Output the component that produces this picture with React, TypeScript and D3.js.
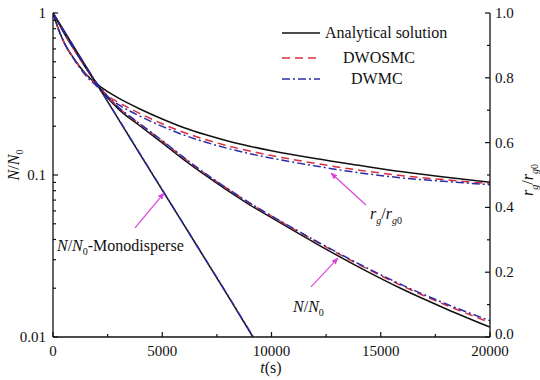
import React from "react";
import * as d3 from "d3";

// ---- data ----
const times = [0, 250, 500, 1000, 1500, 2000, 2500, 3000, 4000, 5000, 6000, 7000, 8000, 9000, 10000, 12000, 14000, 16000, 18000, 20000];

// N/N0 polydisperse (left, log axis)
const nAnalytical = [1, 0.87, 0.755, 0.585, 0.458, 0.365, 0.3, 0.255, 0.2, 0.158, 0.124, 0.099, 0.08, 0.0655, 0.0545, 0.038, 0.027, 0.0197, 0.0149, 0.0115];
const nDWOSMC = [1, 0.87, 0.755, 0.585, 0.46, 0.368, 0.305, 0.26, 0.205, 0.162, 0.127, 0.101, 0.082, 0.067, 0.0557, 0.0391, 0.028, 0.0206, 0.0157, 0.0123];
const nDWMC = [1, 0.875, 0.76, 0.59, 0.462, 0.37, 0.306, 0.262, 0.206, 0.163, 0.128, 0.1015, 0.0822, 0.0672, 0.056, 0.0394, 0.0283, 0.0209, 0.016, 0.0126];

// r_g/r_g0 (right, linear axis)
const rgAnalytical = [1, 0.95, 0.91, 0.855, 0.812, 0.781, 0.757, 0.737, 0.703, 0.673, 0.646, 0.624, 0.605, 0.589, 0.575, 0.551, 0.53, 0.51, 0.493, 0.478];
const rgDWOSMC = [1, 0.95, 0.91, 0.855, 0.81, 0.778, 0.745, 0.724, 0.689, 0.658, 0.631, 0.609, 0.59, 0.574, 0.56, 0.536, 0.515, 0.498, 0.485, 0.473];
const rgDWMC = [1, 0.95, 0.91, 0.853, 0.807, 0.774, 0.74, 0.717, 0.681, 0.65, 0.623, 0.601, 0.582, 0.566, 0.552, 0.528, 0.507, 0.491, 0.48, 0.47];

// N/N0 monodisperse (left, log axis)
const monoTimes = [0, 2000, 4000, 6000, 8000, 9150];
const monoAnalytical = [1, 0.365, 0.133, 0.049, 0.018, 0.01];
const monoDWMC = [1, 0.366, 0.134, 0.0492, 0.0181, 0.0101];

const xTicks = [0, 5000, 10000, 15000, 20000];
const xMinor = [2500, 7500, 12500, 17500];
const leftTicks = [1, 0.1, 0.01];
const leftTickLabels = ["1", "0.1", "0.01"];
const rightTicks = [0, 0.2, 0.4, 0.6, 0.8, 1.0];
const rightTickLabels = ["0.0", "0.2", "0.4", "0.6", "0.8", "1.0"];
const rightMinor = [0.1, 0.3, 0.5, 0.7, 0.9];

const legendLabels = ["Analytical solution", "DWOSMC", "DWMC"];

const FONT = "'Liberation Serif', 'DejaVu Serif', 'Times New Roman', serif";
const BLACK = "#111";
const RED = "#d8303c";
const BLUE = "#2c2ca8";
const MAGENTA = "#dd44dd";

export default function App() {
  const W = 540, H = 380;
  const L = 53, R = 490, T = 13, B = 337;
  const x = d3.scaleLinear().domain([0, 20000]).range([L, R]);
  const yL = d3.scaleLog().domain([0.01, 1]).range([B, T]);
  const yR = d3.scaleLinear().domain([0, 1]).range([B, T]);

  const lineL = d3.line<[number, number]>().x(d => x(d[0])).y(d => yL(d[1])).curve(d3.curveMonotoneX);
  const lineR = d3.line<[number, number]>().x(d => x(d[0])).y(d => yR(d[1])).curve(d3.curveMonotoneX);
  const zip = (ts: number[], vs: number[]) => ts.map((t, i) => [t, vs[i]] as [number, number]);

  const leftMinor: number[] = [];
  [0.01, 0.1].forEach(base => { for (let k = 2; k <= 9; k++) leftMinor.push(base * k); });

  const dashRed = "8,5";
  const dashBlue = "8,3,2,3";

  const series = [
    { d: lineR(zip(times, rgAnalytical)), c: BLACK, dash: undefined },
    { d: lineR(zip(times, rgDWOSMC)), c: RED, dash: dashRed },
    { d: lineR(zip(times, rgDWMC)), c: BLUE, dash: dashBlue },
    { d: lineL(zip(times, nAnalytical)), c: BLACK, dash: undefined },
    { d: lineL(zip(times, nDWOSMC)), c: RED, dash: dashRed },
    { d: lineL(zip(times, nDWMC)), c: BLUE, dash: dashBlue },
    { d: lineL(zip(monoTimes, monoAnalytical)), c: BLACK, dash: undefined },
    { d: lineL(zip(monoTimes, monoDWMC)), c: BLUE, dash: dashBlue },
  ];

  // annotations in data coordinates (t, N/N0)
  const arrows = [
    { from: [3753, 0.0471], to: [5080, 0.0774] },
    { from: [14325, 0.0653], to: [12723, 0.1028] },
    { from: [11808, 0.0204], to: [13043, 0.0307] },
  ];

  const legendColors = [BLACK, RED, BLUE];
  const legendDash = [undefined, dashRed, dashBlue];
  const legendY = [33, 58, 79];
  const legendTextX = [325, 343, 351];

  return (
    <svg width={W} height={H} style={{ position: "absolute", left: 0, top: 0, background: "#fff", fontFamily: FONT }} fontFamily={FONT}>
      <defs>
        <clipPath id="plot"><rect x={L} y={T - 2} width={R - L} height={B - T + 2} /></clipPath>
        <marker id="arr" viewBox="0 0 10 10" refX="9" refY="5" markerWidth="7" markerHeight="7" orient="auto" markerUnits="userSpaceOnUse">
          <path d="M0,1 L10,5 L0,9 z" fill={MAGENTA} />
        </marker>
      </defs>
      <rect width={W} height={H} fill="#fff" />

      <g clipPath="url(#plot)">
        {series.map((s, i) => (
          <path key={i} d={s.d || ""} fill="none" stroke={s.c} strokeWidth={1.5} strokeDasharray={s.dash} />
        ))}
      </g>

      {/* arrows */}
      {arrows.map((a, i) => (
        <line key={i} x1={x(a.from[0])} y1={yL(a.from[1])} x2={x(a.to[0])} y2={yL(a.to[1])}
          stroke={MAGENTA} strokeWidth={1.2} markerEnd="url(#arr)" />
      ))}

      {/* annotation labels */}
      <text x={x(183)} y={yL(0.034)} fontSize={16} fill={BLACK}>
        <tspan fontStyle="italic">N</tspan>/<tspan fontStyle="italic">N</tspan>
        <tspan fontSize={10} dy={4}>0</tspan><tspan dy={-4}>-Monodisperse</tspan>
      </text>
      <text x={x(10984)} y={yL(0.01426)} fontSize={16} fill={BLACK}>
        <tspan fontStyle="italic">N</tspan>/<tspan fontStyle="italic">N</tspan>
        <tspan fontSize={10} dy={4}>0</tspan>
      </text>
      <text x={x(14508)} y={yL(0.0535)} fontSize={16} fill={BLACK}>
        <tspan fontStyle="italic">r</tspan><tspan fontSize={10} dy={5} fontStyle="italic">g</tspan>
        <tspan dy={-5}>/</tspan><tspan fontStyle="italic">r</tspan>
        <tspan fontSize={10} dy={5} fontStyle="italic">g</tspan><tspan fontSize={10}>0</tspan>
      </text>

      {/* axes lines */}
      <line x1={L} y1={T} x2={L} y2={B} stroke={BLACK} strokeWidth={1.3} />
      <line x1={R} y1={T} x2={R} y2={B} stroke={BLACK} strokeWidth={1.3} />
      <line x1={L} y1={B} x2={R} y2={B} stroke={BLACK} strokeWidth={1.3} />

      {/* x ticks */}
      {xTicks.map(t => (
        <g key={t}>
          <line x1={x(t)} x2={x(t)} y1={B} y2={B - 5} stroke={BLACK} strokeWidth={1.2} />
          <text x={x(t)} y={356} fontSize={15} textAnchor="middle" fill={BLACK}>{t}</text>
        </g>
      ))}
      {xMinor.map(t => (
        <line key={t} x1={x(t)} x2={x(t)} y1={B} y2={B - 3} stroke={BLACK} strokeWidth={1.2} />
      ))}
      <text x={271} y={373} fontSize={16} textAnchor="middle" fill={BLACK}>
        <tspan fontStyle="italic">t</tspan>(s)
      </text>

      {/* left ticks */}
      {leftTicks.map((v, i) => (
        <g key={v}>
          <line x1={L} x2={L + 5} y1={yL(v)} y2={yL(v)} stroke={BLACK} strokeWidth={1.2} />
          <text x={46} y={yL(v)} dy="0.33em" fontSize={15} textAnchor="end" fill={BLACK}>{leftTickLabels[i]}</text>
        </g>
      ))}
      {leftMinor.map(v => (
        <line key={v} x1={L} x2={L + 3} y1={yL(v)} y2={yL(v)} stroke={BLACK} strokeWidth={1.2} />
      ))}
      <text transform={`translate(19,${165}) rotate(-90)`} fontSize={16} textAnchor="middle" fill={BLACK}>
        <tspan fontStyle="italic">N</tspan>/<tspan fontStyle="italic">N</tspan>
        <tspan fontSize={10} dy={4}>0</tspan>
      </text>

      {/* right ticks */}
      {rightTicks.map((v, i) => (
        <g key={v}>
          <line x1={R} x2={R - 5} y1={yR(v)} y2={yR(v)} stroke={BLACK} strokeWidth={1.2} />
          <text x={495} y={yR(v)} dy={v === 0 ? "0.1em" : "0.33em"} fontSize={15} textAnchor="start" fill={BLACK}>{rightTickLabels[i]}</text>
        </g>
      ))}
      {rightMinor.map(v => (
        <line key={v} x1={R} x2={R - 3} y1={yR(v)} y2={yR(v)} stroke={BLACK} strokeWidth={1.2} />
      ))}
      <text transform={`translate(533,${180}) rotate(-90)`} fontSize={16} textAnchor="middle" fill={BLACK}>
        <tspan fontStyle="italic">r</tspan><tspan fontSize={10} dy={5} fontStyle="italic">g</tspan>
        <tspan dy={-5}>/</tspan><tspan fontStyle="italic">r</tspan>
        <tspan fontSize={10} dy={5} fontStyle="italic">g</tspan><tspan fontSize={10}>0</tspan>
      </text>

      {/* legend */}
      {legendLabels.map((lab, i) => (
        <g key={lab}>
          <line x1={282} x2={320} y1={legendY[i]} y2={legendY[i]} stroke={legendColors[i]} strokeWidth={1.5} strokeDasharray={legendDash[i]} />
          <text x={legendTextX[i]} y={legendY[i]} dy="0.33em" fontSize={16} fill={BLACK}>{lab}</text>
        </g>
      ))}
    </svg>
  );
}
